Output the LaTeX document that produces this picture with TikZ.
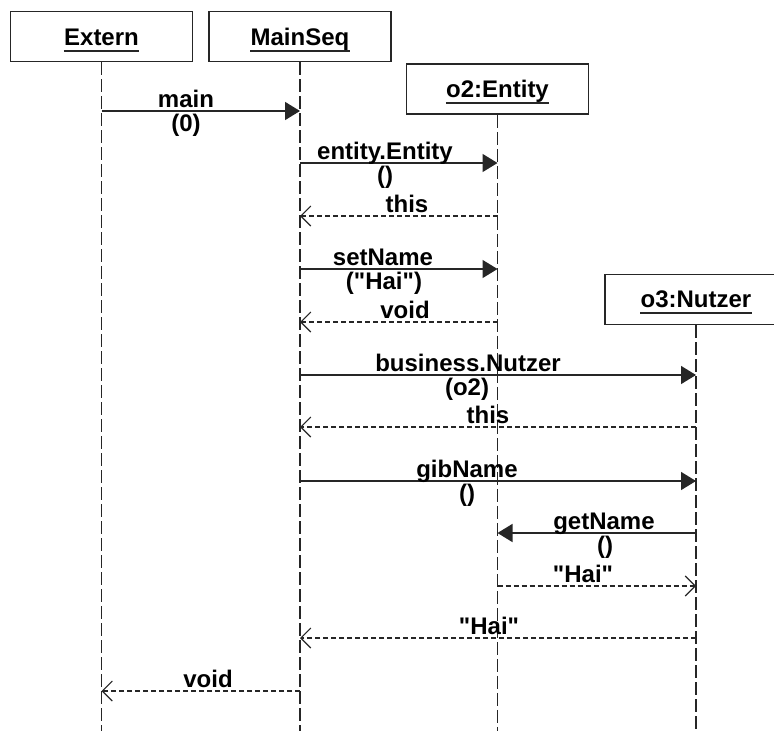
\documentclass[tikz,border=0pt]{standalone}
\usepackage{fontspec}
\setmainfont{Liberation Sans}
\usetikzlibrary{arrows.meta}

\begin{document}
\begin{tikzpicture}[x=1pt,y=-1pt,
  headbox/.style={draw=black!85, line width=1.5pt, fill=white,
    minimum width=182pt, minimum height=50pt, inner sep=0pt},
  headtxt/.style={anchor=base, inner sep=0pt, font=\bfseries\fontsize{24}{28}\selectfont},
  lifeline/.style={draw=black!85, line width=1.6pt, dash pattern=on 13pt off 4pt},
  call/.style={draw=black!85, line width=1.5pt, -{Triangle[length=15pt,width=18pt]}},
  reply/.style={draw=black!85, line width=1.4pt, dash pattern=on 5pt off 3pt,
    -{Straight Barb[length=10pt,width=20pt,line width=1.1pt]}},
  lbl/.style={anchor=base, inner sep=0pt, font=\bfseries\fontsize{24}{28}\selectfont},
  uline/.style={draw=black!85, line width=1.6pt}
]
\useasboundingbox (0,0) rectangle (774,731);

% object headers
\node[headbox] (ext) at (101.5,36.5) {};
\node[headbox] (seq) at (300,36.5) {};
\node[headbox] (ent) at (497.5,89) {};
\node[headbox] (nut) at (696,299.5) {};

\node[headtxt] (extT) at (ext.center |- 0,45) {Extern};
\node[headtxt] (seqT) at (seq.center |- 0,45) {MainSeq};
\node[headtxt] (entT) at (ent.center |- 0,97) {o2:Entity};
\node[headtxt] (nutT) at (nut.center |- 0,307) {o3:Nutzer};
\foreach \t in {extT,seqT,entT,nutT}
  \draw[uline] ([yshift=-6pt]\t.base west) -- ([yshift=-6pt]\t.base east);

% lifelines
\draw[lifeline] (ext.south) -- (ext.south |- 0,731);
\draw[lifeline] (seq.south) -- (seq.south |- 0,731);
\draw[lifeline] (ent.south) -- (ent.south |- 0,731);
\draw[lifeline] (nut.south) -- (nut.south |- 0,731);

% main
\draw[call] (ext.south |- 0,111) -- (seq.south |- 0,111);
\node[lbl] at (186,107) {main};
\node[lbl] at (186,131) {(0)};

% entity.Entity
\draw[call] (seq.south |- 0,163) -- (ent.south |- 0,163);
\node[lbl] at (385,159) {entity.Entity};
\node[lbl] at (385,183) {()};
\draw[reply] (ent.south |- 0,216) -- (seq.south |- 0,216);
\node[lbl] at (407,212) {this};

% setName
\draw[call] (seq.south |- 0,269) -- (ent.south |- 0,269);
\node[lbl] at (383,265) {setName};
\node[lbl] at (384,289) {(\textquotedbl Hai\textquotedbl)};
\draw[reply] (ent.south |- 0,322) -- (seq.south |- 0,322);
\node[lbl] at (405,318) {void};

% business.Nutzer
\draw[call] (seq.south |- 0,375) -- (nut.south |- 0,375);
\node[lbl] at (468,371) {business.Nutzer};
\node[lbl] at (467,395) {(o2)};
\draw[reply] (nut.south |- 0,427) -- (seq.south |- 0,427);
\node[lbl] at (488,423) {this};

% gibName
\draw[call] (seq.south |- 0,481) -- (nut.south |- 0,481);
\node[lbl] at (467,477) {gibName};
\node[lbl] at (467,501) {()};

% getName
\draw[call] (nut.south |- 0,533) -- (ent.south |- 0,533);
\node[lbl] at (604,529) {getName};
\node[lbl] at (605,553) {()};
\draw[reply] (ent.south |- 0,586) -- (nut.south |- 0,586);
\node[lbl] at (583,582) {\textquotedbl Hai\textquotedbl};

% return of gibName
\draw[reply] (nut.south |- 0,638) -- (seq.south |- 0,638);
\node[lbl] at (489,634) {\textquotedbl Hai\textquotedbl};

% return of main
\draw[reply] (seq.south |- 0,691) -- (ext.south |- 0,691);
\node[lbl] at (208,687) {void};
\end{tikzpicture}
\end{document}
